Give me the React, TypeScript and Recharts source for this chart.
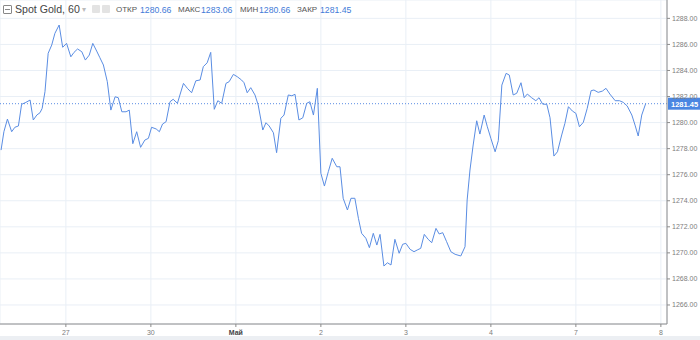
import { CartesianGrid, Line, LineChart, ReferenceLine, XAxis, YAxis } from "recharts";

// hours since the left edge of the window, one close per bar (60 min)
const hours = [
  0.3, 1.1, 2.1, 3.3, 4.2, 5.2, 6.1, 7.3, 8.5, 9.4, 10.4, 11.3, 11.9, 12.7, 13.6, 14.6, 15.5, 16.7,
  17.7, 18.8, 20.0, 20.9, 21.9, 23.1, 24.1, 25.2, 26.2, 27.3, 28.2, 29.2, 30.3, 31.3, 32.5, 33.4,
  34.4, 35.6, 36.5, 37.5, 38.6, 39.7, 40.9, 41.9, 42.8, 44.1, 45.0, 45.9, 46.9, 48.0, 48.9, 50.1,
  50.8, 51.8, 52.9, 54.1, 55.3, 56.5, 57.4, 58.5, 59.5, 60.5, 61.5, 62.6, 63.8, 64.7, 65.9, 67.0,
  68.2, 68.9, 69.8, 70.8, 72.0, 72.9, 74.2, 75.1, 76.0, 77.2, 78.1, 79.3, 80.2, 81.4, 82.4, 83.3,
  84.4, 85.5, 86.6, 87.5, 88.5, 89.6, 90.6, 91.6, 92.7, 93.8, 95.1, 96.0, 96.9, 98.1, 99.1, 100.2,
  101.2, 102.1, 103.3, 104.3, 105.4, 106.4, 107.3, 108.4, 109.4, 110.4, 111.5, 112.7, 113.7, 114.6,
  115.8, 116.9, 117.8, 118.8, 119.8, 120.9, 121.9, 123.1, 124.0, 125.0, 126.1, 127.3, 128.5, 130.1,
  131.3, 131.9, 132.7, 133.6, 134.6, 135.5, 136.7, 137.6, 138.6, 139.8, 140.7, 141.7, 142.9, 143.8,
  144.9, 145.9, 147.1, 148.0, 148.9, 150.1, 151.3, 152.2, 153.2, 154.4, 155.3, 156.4, 157.4, 158.6,
  159.5, 160.5, 161.6, 162.6, 163.6, 164.7, 165.8, 166.9, 167.7, 168.9, 170.1, 171.1, 172.2, 173.7,
  174.9, 176.0, 177.1, 178.4, 179.3, 180.2, 181.2, 182.3
];

const closes = [
  1277.89, 1279.3, 1280.27, 1279.3, 1279.64, 1279.74, 1281.4, 1281.55, 1281.73, 1280.2, 1280.58,
  1280.76, 1281.09, 1282.37, 1285.32, 1285.95, 1286.85, 1287.49, 1285.78, 1286.08, 1285.05, 1285.39,
  1285.65, 1285.44, 1284.8, 1285.18, 1286.08, 1285.49, 1284.98, 1284.42, 1283.14, 1280.96, 1281.98,
  1281.91, 1280.83, 1280.83, 1280.96, 1278.38, 1279.3, 1278.1, 1278.66, 1278.79, 1279.64, 1279.51,
  1279.3, 1279.89, 1280.07, 1281.6, 1281.79, 1281.48, 1282.12, 1283.01, 1282.63, 1282.29, 1283.21,
  1283.27, 1284.29, 1284.59, 1285.39, 1281.02, 1281.68, 1281.48, 1283.01, 1283.14, 1283.7, 1283.52,
  1283.27, 1283.06, 1282.29, 1282.68, 1282.12, 1281.35, 1279.43, 1279.99, 1279.74, 1279.22, 1277.69,
  1280.33, 1280.58, 1282.12, 1282.06, 1282.17, 1280.2, 1280.37, 1281.48, 1281.6, 1280.58, 1282.63,
  1276.11, 1275.13, 1276.23, 1277.26, 1276.61, 1276.61, 1274.19, 1273.29, 1274.19, 1274.19, 1272.65,
  1271.5, 1271.12, 1270.4, 1271.5, 1270.6, 1271.42, 1268.99, 1269.24, 1269.07, 1271.04, 1269.97,
  1270.66, 1270.73, 1270.27, 1270.09, 1270.22, 1270.35, 1271.42, 1271.04, 1270.78, 1271.88, 1271.45,
  1271.55, 1270.86, 1270.09, 1269.89, 1269.76, 1270.47, 1274.06, 1276.36, 1278.28, 1280.14, 1279.12,
  1280.58, 1279.68, 1278.79, 1277.76, 1278.61, 1282.88, 1283.78, 1283.65, 1282.12, 1282.25, 1283.06,
  1281.91, 1282.19, 1281.91, 1281.68, 1281.91, 1281.42, 1281.4, 1280.37, 1277.43, 1277.76, 1279.05,
  1279.94, 1281.22, 1280.89, 1280.71, 1279.68, 1280.02, 1281.09, 1282.45, 1282.5, 1282.32, 1282.42,
  1282.63, 1282.19, 1281.68, 1281.68, 1281.55, 1281.27, 1280.58, 1279.81, 1278.97, 1280.58, 1281.45
];

const dayTicks = [18.6, 42.6, 66.6, 90.6, 114.6, 138.6, 162.6, 186.6];
const dayLabels = ["27", "30", "Май", "2", "3", "4", "7", "8"];
const priceTicks = [1266, 1268, 1270, 1272, 1274, 1276, 1278, 1280, 1282, 1284, 1286, 1288];

const lastClose = 1281.45;
const stats = [
  { label: "ОТКР", value: "1280.66", lx: 116, vx: 140 },
  { label: "МАКС", value: "1283.06", lx: 178, vx: 201 },
  { label: "МИН", value: "1280.66", lx: 240, vx: 259 },
  { label: "ЗАКР", value: "1281.45", lx: 297, vx: 320 }
];

const colors = {
  line: "#5a8de3",
  grid: "#e9eff6",
  axis: "#8c8c8c",
  tickText: "#7d7d7d",
  value: "#3f7bd8",
  label: "#555"
};

const chartData = hours.map((h, i) => ({ h, close: closes[i] }));

function XTick(props: any) {
  const { x, y, payload } = props;
  const label = dayLabels[dayTicks.indexOf(payload.value)] ?? "";
  return (
    <text
      x={x}
      y={y + 6}
      textAnchor="middle"
      fontSize={7}
      fontWeight={label === "Май" ? 700 : 400}
      fill={label === "Май" ? "#444" : colors.tickText}
      fontFamily="Liberation Sans"
    >
      {label}
    </text>
  );
}

function PriceTag(props: any) {
  const vb = props.viewBox;
  if (!vb) return null;
  const x = vb.x + vb.width + 1;
  return (
    <g>
      <rect x={x} y={vb.y - 6} width={33} height={12} fill="#4a86e2" />
      <text
        x={x + 3}
        y={vb.y + 3}
        fontSize={7.5}
        fontWeight={700}
        fill="#fff"
        fontFamily="Liberation Sans"
      >
        {lastClose.toFixed(2)}
      </text>
    </g>
  );
}

export default function App() {
  const font = "Liberation Sans";
  return (
    <div
      style={{
        position: "absolute",
        left: 0,
        top: 0,
        width: 700,
        height: 340,
        background: "#fff",
        fontFamily: font,
        overflow: "hidden"
      }}
    >
      <LineChart
        width={700}
        height={336}
        data={chartData}
        margin={{ top: 0, right: 0, bottom: 0, left: 0 }}
      >
        <CartesianGrid stroke={colors.grid} />
        <XAxis
          dataKey="h"
          type="number"
          domain={[0, 188.33]}
          ticks={dayTicks}
          interval={0}
          height={12}
          tickSize={3}
          tick={<XTick />}
          stroke={colors.axis}
          allowDataOverflow
        />
        <YAxis
          orientation="right"
          type="number"
          domain={[1264.54, 1289.41]}
          ticks={priceTicks}
          interval={0}
          width={33}
          tickSize={3}
          tickMargin={2}
          tickFormatter={(v: number) => v.toFixed(2)}
          tick={{ fontSize: 7, fill: colors.tickText, fontFamily: font }}
          stroke={colors.axis}
          allowDataOverflow
        />
        <ReferenceLine
          y={lastClose}
          stroke={colors.line}
          strokeDasharray="1 2"
          label={<PriceTag />}
        />
        <Line
          type="linear"
          dataKey="close"
          stroke={colors.line}
          strokeWidth={1}
          dot={false}
          activeDot={false}
          isAnimationActive={false}
        />
      </LineChart>
      <div style={{ position: "absolute", left: 0, top: 336, width: 700, height: 4, background: "#eceff3" }} />

      <div
        style={{
          position: "absolute",
          left: 3,
          top: 5,
          width: 7,
          height: 7,
          border: "1px solid #888",
          borderRadius: 1
        }}
      >
        <div style={{ position: "absolute", left: 1, top: 3, width: 5, height: 1, background: "#888" }} />
      </div>
      <span style={{ position: "absolute", left: 15, top: 3, fontSize: 10.6, color: "#444", lineHeight: "13px" }}>
        Spot Gold, 60
      </span>
      <span style={{ position: "absolute", left: 82, top: 3, fontSize: 8, color: "#bbb", lineHeight: "13px" }}>
        ▾
      </span>
      <div style={{ position: "absolute", left: 92, top: 5, width: 8, height: 8, background: "#e3e3e3", borderRadius: 1 }} />
      <div style={{ position: "absolute", left: 102, top: 5, width: 8, height: 8, background: "#e3e3e3", borderRadius: 1 }} />
      {stats.map((s) => (
        <span key={s.label}>
          <span style={{ position: "absolute", left: s.lx, top: 4, fontSize: 8, color: colors.label, lineHeight: "12px" }}>
            {s.label}
          </span>
          <span style={{ position: "absolute", left: s.vx, top: 4, fontSize: 8.7, color: colors.value, lineHeight: "12px" }}>
            {s.value}
          </span>
        </span>
      ))}
    </div>
  );
}
